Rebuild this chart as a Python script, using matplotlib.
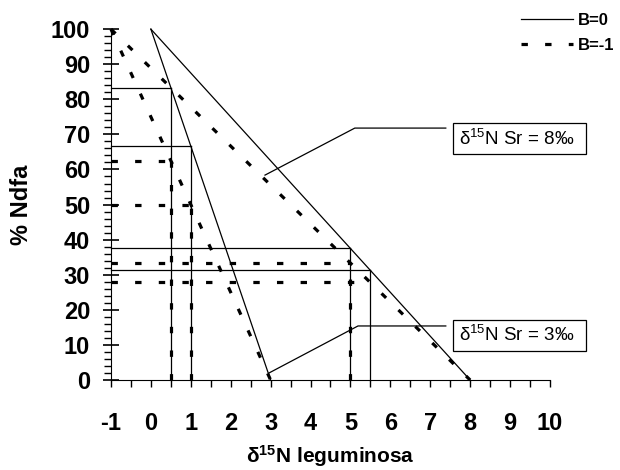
import matplotlib.pyplot as plt
from matplotlib.lines import Line2D
from matplotlib.ticker import MultipleLocator

plt.rcParams['font.family'] = ['Liberation Sans', 'DejaVu Sans']
plt.rcParams['axes.unicode_minus'] = False

# rectas de %Ndfa frente a d15N de la leguminosa
x_b0_sr8 = [0, 8]
x_b0_sr3 = [0, 3]
x_bm1_sr8 = [-1, 8]
x_bm1_sr3 = [-1, 3]
y_recta = [100, 0]

# valores de referencia
delta_ref = [0.5, 1, 5, 5.5]
ndfa_b0 = [83.3, 66.7, 37.5, 31.3]
ndfa_bm1 = [62.5, 50.0, 33.3, 27.8]
vert_bm1 = [True, True, True, False]

fig = plt.figure(figsize=(6.2, 4.7), dpi=100)
ax = fig.add_axes([0.179, 0.1915, 0.708, 0.7465])

solido = dict(color='black', lw=0.9, clip_on=False)
guion = dict(color='black', lw=2.3, dashes=(2.0, 5.4), clip_on=False)

ax.plot(x_b0_sr8, y_recta, **solido)
ax.plot(x_b0_sr3, y_recta, **solido)
ax.plot(x_bm1_sr8, y_recta, **guion)
ax.plot(x_bm1_sr3, y_recta, **guion)

for d, n in zip(delta_ref, ndfa_b0):
    ax.plot([-1, d], [n, n], **solido)
    ax.plot([d, d], [0, n], **solido)
for d, n, v in zip(delta_ref, ndfa_bm1, vert_bm1):
    ax.plot([-1, d], [n, n], **guion)
    if v:
        ax.plot([d, d], [0, n], **guion)

# etiquetas con linea de llamada
ax.plot([7.39, 5.11, 2.86], [71.8, 71.8, 58.4], color='black', lw=0.9, clip_on=False)
ax.plot([7.39, 5.19, 2.96], [15.4, 15.4, 2.0], color='black', lw=0.9, clip_on=False)
caja = dict(boxstyle='square,pad=0.3', fc='white', ec='black', lw=0.9)
ax.text(7.72, 68.8, r'$\mathregular{\delta^{15}}$N Sr = 8‰  ', fontsize=13.5,
        va='center', ha='left', bbox=caja, clip_on=False)
ax.text(7.72, 12.7, r'$\mathregular{\delta^{15}}$N Sr = 3‰  ', fontsize=13.5,
        va='center', ha='left', bbox=caja, clip_on=False)

ax.set_xlim(-1, 10)
ax.set_ylim(0, 100)
ax.spines['top'].set_visible(False)
ax.spines['right'].set_visible(False)
ax.xaxis.set_major_locator(MultipleLocator(1))
ax.xaxis.set_minor_locator(MultipleLocator(0.5))
ax.yaxis.set_major_locator(MultipleLocator(10))
ax.yaxis.set_minor_locator(MultipleLocator(2))
ax.tick_params(axis='y', which='major', direction='inout', length=12, width=1.2, pad=9)
ax.tick_params(axis='y', which='minor', direction='out', length=5, width=1)
ax.tick_params(axis='x', which='both', direction='out', length=5, width=1, pad=18)
for lab in ax.get_xticklabels() + ax.get_yticklabels():
    lab.set_fontweight('bold')
    lab.set_fontsize(17)

fig.text(0.035, 0.565, '% Ndfa', rotation=90, fontsize=17, fontweight='bold',
         ha='center', va='center')
fig.text(0.533, 0.03, r'$\mathregular{\delta^{15}}$N leguminosa', fontsize=15,
         fontweight='bold', ha='center', va='center')

handles = [Line2D([], [], color='black', lw=0.9),
           Line2D([], [], color='black', lw=2.3, dashes=(2.0, 5.4))]
leg = fig.legend(handles, ['B=0', 'B=-1'], loc='upper right',
                 bbox_to_anchor=(1.015, 1.005), frameon=False, handlelength=3.1,
                 handletextpad=0.3, labelspacing=0.6,
                 prop=dict(weight='bold', size=12))

fig.savefig('out.png', dpi=100)
